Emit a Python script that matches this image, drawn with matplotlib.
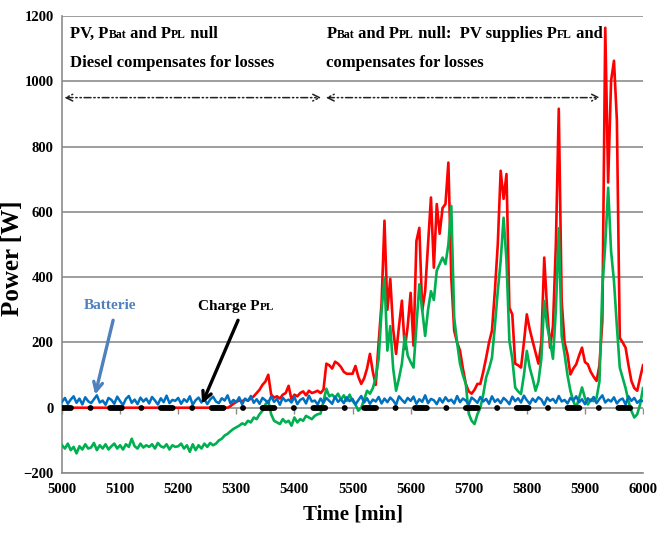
import matplotlib
matplotlib.use("Agg")
import matplotlib.pyplot as plt
import numpy as np

plt.rcParams['font.family'] = ['Liberation Serif', 'DejaVu Serif']
plt.rcParams['font.weight'] = 'bold'
plt.rcParams['lines.scale_dashes'] = False

# ---------------- data (5-minute samples, 5000..6000 min) ----------------
t_start, t_step = 5000, 5

red_pv = [
    0, 0, 0, 0, 0, 0, 0, 0, 0, 0,
    0, 0, 0, 0, 0, 0, 0, 0, 0, 0,
    0, 0, 0, 0, 0, 0, 0, 0, 0, 0,
    0, 0, 0, 0, 0, 0, 0, 0, 0, 0,
    0, 0, 0, 0, 0, 0, 0, 0, 0, 0,
    0, 0, 0, 0, 0, 0, 0, 0, 5, 12,
    18, 22, 20, 25, 22, 28, 35, 45, 55, 70,
    80, 101, 40, 31, 35, 28, 40, 45, 67, 25,
    40, 35, 45, 50, 38, 52, 45, 48, 52, 45,
    55, 135, 130, 120, 141, 135, 125, 110, 104, 104,
    104, 128, 95, 73, 90, 120, 165, 110, 70, 200,
    320, 573, 300, 395, 240, 165, 250, 328, 180, 250,
    352, 190, 511, 551, 297, 357, 500, 644, 429, 624,
    533, 612, 624, 751, 398, 236, 200, 175, 120, 73,
    50, 43, 55, 73, 73, 110, 153, 200, 236, 357,
    500, 726, 640, 716, 306, 286, 135, 130, 123, 200,
    286, 240, 204, 170, 135, 200, 460, 300, 184, 250,
    500, 916, 327, 200, 164, 102, 120, 133, 160, 184,
    140, 133, 110, 95, 82, 130, 265, 1164, 690, 1001,
    1063, 881, 214, 200, 184, 130, 82, 60, 52, 92,
    130,
]

green_diesel = [
    -115, -125, -110, -130, -120, -140, -118, -128, -112, -125,
    -122, -108, -130, -115, -125, -112, -128, -118, -110, -125,
    -115, -128, -112, -120, -95, -118, -125, -110, -122, -115,
    -120, -112, -125, -108, -118, -122, -112, -128, -115, -120,
    -118, -110, -125, -115, -135, -112, -130, -115, -125, -110,
    -120, -108, -115, -110, -100, -95, -85, -80, -72, -65,
    -60, -55, -48, -52, -40, -45, -30, -35, -20, -9,
    10, 21, -20, -40, -45, -50, -35, -45, -40, -55,
    -30, -45, -35, -40, -25, -30, -35, -25, -20, -18,
    20, 58, 35, 40, 30, 43, 25, 38, 21, 40,
    21, 10, -9, 0, 25, 52, 43, 60, 92, 150,
    297, 398, 175, 250, 120, 52, 90, 135, 220, 160,
    140, 123, 250, 378, 300, 220, 300, 357, 330, 420,
    440, 460, 440, 500, 618, 276, 200, 135, 100, 73,
    -18, -40, -50, -20, 0, 40, 93, 120, 153, 250,
    357, 450, 582, 450, 205, 150, 62, 50, 42, 100,
    174, 123, 90, 52, 80, 150, 327, 250, 205, 150,
    300, 550, 220, 164, 100, 52, 20, 0, 30, 62,
    30, 10, 25, 20, 30, 80, 368, 500, 674, 480,
    388, 250, 123, 92, 60, 20, -10, -30, -20, 10,
    60,
]

blue_batterie = [
    18, 30, 12, 25, 35, 15, 28, 10, 32, 20,
    14, 26, 38, 16, 22, 9, 30, 24, 12, 34,
    20, 8, 27, 36, 15, 25, 11, 31, 19, 28,
    13, 33, 22, 10, 29, 17, 37, 14, 24, 21,
    30, 12, 26, 18, 35, 9, 23, 31, 16, 27,
    11, 25, 34, 19, 14, 29, 22, 38, 13, 24,
    17, 32, 10, 28, 21, 36, 15, 26, 12, 30,
    23, 14, 35, 18, 27, 9, 31, 20, 25, 16,
    33, 11, 24, 29, 13, 37, 19, 22, 10, 28,
    15, 30, 21, 12, 34, 18, 26, 14, 32, 20,
    27, 10, 23, 36, 16, 29, 12, 25, 19, 33,
    13, 28, 17, 31, 22, 9, 35, 24, 15, 30,
    21, 34, 12, 26, 18, 38, 14, 27, 23, 11,
    29, 16, 32, 20, 25, 13, 36, 17, 28, 22,
    10, 31, 24, 15, 33, 19, 27, 12, 35, 18,
    26, 14, 30, 22, 11, 34, 20, 29, 16, 37,
    23, 12, 28, 18, 32, 25, 9, 31, 21, 27,
    15, 36, 19, 24, 13, 30, 22, 35, 17, 26,
    11, 29, 20, 33, 14, 27, 38, 16, 25, 19,
    32, 13, 24, 28, 10, 35, 21, 30, 15, 23,
    20,
]

charge_t = [5000, 6000]
charge_p = [0, 0]

x_ticks = list(range(5000, 6001, 100))
y_ticks = list(range(-200, 1201, 200))
phase_bounds = [5000, 5450, 5930]
phase_arrow_y = 950

time = t_start + t_step * np.arange(len(red_pv))

# ---------------- figure ----------------
fig = plt.figure(figsize=(6.61, 5.43), dpi=100)
ax = fig.add_axes([0.0938, 0.1289, 0.879, 0.8416])

grid_c = '#8c8c8c'
ax.set_xlim(5000, 6000)
ax.set_ylim(-200, 1200)
ax.set_xticks(x_ticks)
ax.set_yticks(y_ticks)
ax.yaxis.grid(True, color=grid_c, lw=1.2, zorder=0)
ax.set_axisbelow(True)
for s in ['top', 'right']:
    ax.spines[s].set_visible(False)
for s in ['left', 'bottom']:
    ax.spines[s].set_color(grid_c)
    ax.spines[s].set_linewidth(1.2)
ax.tick_params(axis='both', length=0, labelsize=10.5)
ax.tick_params(axis='x', pad=7)
ax.tick_params(axis='y', pad=6)
for lab in ax.get_xticklabels() + ax.get_yticklabels():
    lab.set_fontweight('bold')

# small ticks on the zero line
ax.plot(x_ticks, [0] * len(x_ticks), ls='none', marker=3, ms=4, mew=1.0,
        color=grid_c, zorder=1)

ax.plot(time, red_pv, color='#ff0000', lw=1.9, zorder=3)
ax.plot(time, green_diesel, color='#00b050', lw=1.9, zorder=4)
ax.plot(time, blue_batterie, color='#0070c0', lw=1.8, zorder=5)
ax.plot(charge_t, charge_p, color='black', lw=4.2, zorder=6,
        linestyle=(2, (8.5, 14, 0.1, 14)), dash_capstyle='round')

ax.set_xlabel('Time [min]', fontsize=15, fontweight='bold', labelpad=6)
ax.set_ylabel('Power [W]', fontsize=18, fontweight='bold')
ax.yaxis.set_label_coords(-0.066, 0.47)

# phase arrows
arrow_ls = (0, (5, 2, 1, 2, 1, 2))
for a, b in zip(phase_bounds[:-1], phase_bounds[1:]):
    ax.annotate('', xy=(b - 4, phase_arrow_y), xytext=(a + 4, phase_arrow_y),
                arrowprops=dict(arrowstyle='<->', color='#222222', lw=1.1,
                                linestyle=arrow_ls, shrinkA=0, shrinkB=0,
                                mutation_scale=12))


def rich(x, y, parts, color='black'):
    t = ax.text(x, y, parts[0][0], fontsize=parts[0][1], fontweight='bold',
                color=color, ha='left', va='baseline', zorder=10)
    prev, prev_size = t, parts[0][1]
    for s, size in parts[1:]:
        off = 0.217 * (prev_size - size)
        prev = ax.annotate(s, xy=(1, 0), xycoords=prev, xytext=(0, off),
                           textcoords='offset points', fontsize=size,
                           fontweight='bold', color=color, ha='left',
                           va='bottom', zorder=10, annotation_clip=False)
        prev_size = size
    return t


B, S = 12, 8.5
rich(5014, 1133, [('PV, P', B), ('Bat', S), (' and P', B), ('PL', S), (' null', B)])
rich(5014, 1044, [('Diesel compensates for losses', B)])
rich(5455, 1133, [('P', B), ('Bat', S), (' and P', B), ('PL', S),
                  (' null:  PV supplies P', B), ('FL', S), (' and', B)])
rich(5455, 1044, [('compensates for losses', B)])

# Batterie annotation
bat_c = '#4f81bd'
ax.text(5083, 312, 'Batterie', fontsize=11, fontweight='bold', color=bat_c,
        ha='center', va='center', zorder=10)
ax.annotate('', xy=(5057, 40), xytext=(5088, 268),
            arrowprops=dict(arrowstyle='->', color=bat_c, lw=2.4,
                            shrinkA=0, shrinkB=0, mutation_scale=16), zorder=10)

# Charge PPL annotation
rich(5234, 300, [('Charge P', 11), ('PL', 8)])
ax.annotate('', xy=(5241, 12), xytext=(5303, 268),
            arrowprops=dict(arrowstyle='->', color='black', lw=2.4,
                            shrinkA=0, shrinkB=0, mutation_scale=16), zorder=10)

fig.savefig('out.png', dpi=100)
